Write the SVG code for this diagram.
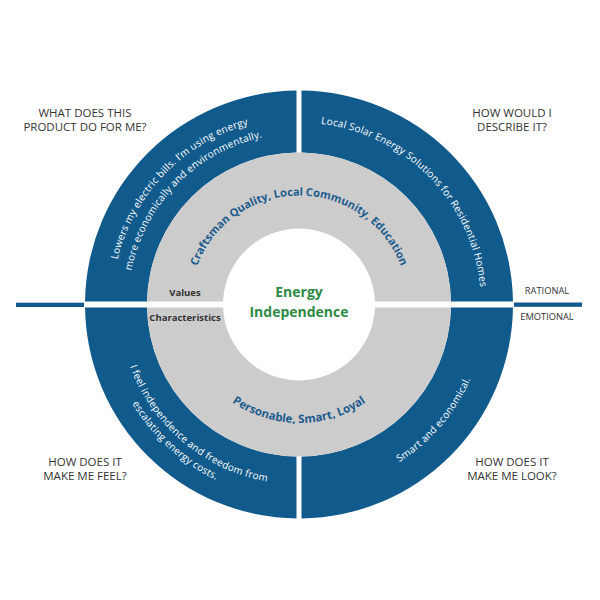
<svg xmlns="http://www.w3.org/2000/svg" width="600" height="600" viewBox="0 0 600 600">
  <style>
    .blue { fill: #105a8c; }
    .gray { fill: #cccccc; }
    .q { font-family: "Open Sans", "Liberation Sans", sans-serif; font-size: 11.5px; fill: #333333; text-anchor: middle; }
    .axis { font-family: "Open Sans", "Liberation Sans", sans-serif; font-size: 9.3px; fill: #333333; text-anchor: middle; }
    .lbl { font-family: "Open Sans", "Liberation Sans", sans-serif; font-size: 9.5px; font-weight: bold; fill: #333333; text-anchor: middle; }
    .ring { font-family: "Open Sans", "Liberation Sans", sans-serif; font-size: 10px; fill: #ffffff; letter-spacing: 0.2px; }
    .grayt { font-family: "Open Sans", "Liberation Sans", sans-serif; font-size: 11.5px; font-weight: bold; fill: #1d5b8c; }
    .grayt.top { font-size: 11px; }
    .center { font-family: "Open Sans", "Liberation Sans", sans-serif; font-size: 14px; font-weight: bold; fill: #2e8a45; text-anchor: middle; }
  </style>
  <defs>
    <path id="pGrayTop" d="M 190 304.5 A 109 109 0 0 1 408 304.5"/>
    <path id="pGrayBot" d="M 180.5 304.5 A 118.5 118.5 0 0 0 417.5 304.5"/>
    <path id="pTL1" d="M 112 304.5 A 187 187 0 0 1 299 117.5"/>
    <path id="pTL2" d="M 128 304.5 A 171 171 0 0 1 299 133.5"/>
    <path id="pTR" d="M 299 122.5 A 182 182 0 0 1 481 304.5"/>
    <path id="pBL1" d="M 119 304.5 A 180 180 0 0 0 299 484.5"/>
    <path id="pBL2" d="M 105 304.5 A 194 194 0 0 0 299 498.5"/>
    <path id="pBR" d="M 299 491.5 A 187 187 0 0 0 486 304.5"/>
  </defs>

  <g id="connectors">
    <rect class="blue" x="16" y="302.7" width="68" height="4.3"/>
    <rect class="blue" x="514" y="302.5" width="68" height="4.3"/>
  </g>

  <g id="ring-top-left">
    <path class="blue" d="M 85.02 301.5 A 214 214 0 0 1 296.5 90.51 L 296.5 152.52 A 152 152 0 0 0 147.03 301.5 Z"/>
    <text class="ring"><textPath href="#pTL1" startOffset="49%" text-anchor="middle">Lowers my electric bills. I’m using energy</textPath></text>
    <text class="ring"><textPath href="#pTL2" startOffset="49.5%" text-anchor="middle">more economically and environmentally.</textPath></text>
  </g>

  <g id="ring-top-right">
    <path class="blue" d="M 301.5 90.51 A 214 214 0 0 1 512.98 301.5 L 450.97 301.5 A 152 152 0 0 0 301.5 152.52 Z"/>
    <text class="ring"><textPath href="#pTR" startOffset="50.8%" text-anchor="middle">Local Solar Energy Solutions for Residential Homes</textPath></text>
  </g>

  <g id="ring-bottom-right">
    <path class="blue" d="M 512.98 307.5 A 214 214 0 0 1 301.5 518.49 L 301.5 456.48 A 152 152 0 0 0 450.97 307.5 Z"/>
    <text class="ring"><textPath href="#pBR" startOffset="55%" text-anchor="middle">Smart and economical.</textPath></text>
  </g>

  <g id="ring-bottom-left">
    <path class="blue" d="M 296.5 518.49 A 214 214 0 0 1 85.02 307.5 L 147.03 307.5 A 152 152 0 0 0 296.5 456.48 Z"/>
    <text class="ring"><textPath href="#pBL1" startOffset="55.5%" text-anchor="middle">I feel independence and freedom from</textPath></text>
    <text class="ring"><textPath href="#pBL2" startOffset="53%" text-anchor="middle">escalating energy costs.</textPath></text>
  </g>

  <g id="values">
    <path class="gray" d="M 147.03 301.5 A 152 152 0 0 1 450.97 301.5 L 374.94 301.5 A 76 76 0 0 0 223.06 301.5 Z"/>
    <text class="grayt top"><textPath href="#pGrayTop" startOffset="50%" text-anchor="middle">Craftsman Quality, Local Community, Education</textPath></text>
    <text class="lbl" x="185" y="296">Values</text>
  </g>

  <g id="characteristics">
    <path class="gray" d="M 450.97 307.5 A 152 152 0 0 1 147.03 307.5 L 223.06 307.5 A 76 76 0 0 0 374.94 307.5 Z"/>
    <text class="grayt"><textPath href="#pGrayBot" startOffset="50%" text-anchor="middle">Personable, Smart, Loyal</textPath></text>
    <text class="lbl" x="185" y="321">Characteristics</text>
  </g>

  <g id="core">
    <text class="center" x="299" y="297">Energy</text>
    <text class="center" x="299" y="316.5">Independence</text>
  </g>

  <g id="q-what">
    <text class="q" x="85" y="116.5">WHAT DOES THIS</text>
    <text class="q" x="85" y="130.5">PRODUCT DO FOR ME?</text>
  </g>
  <g id="q-describe">
    <text class="q" x="512" y="116.5">HOW WOULD I</text>
    <text class="q" x="512" y="130.5">DESCRIBE IT?</text>
  </g>
  <g id="q-feel">
    <text class="q" x="85" y="466">HOW DOES IT</text>
    <text class="q" x="85" y="479.5">MAKE ME FEEL?</text>
  </g>
  <g id="q-look">
    <text class="q" x="512" y="466">HOW DOES IT</text>
    <text class="q" x="512" y="479.5">MAKE ME LOOK?</text>
  </g>

  <g id="axis-labels">
    <text class="axis" x="547" y="294">RATIONAL</text>
    <text class="axis" x="547" y="319.5">EMOTIONAL</text>
  </g>
</svg>
